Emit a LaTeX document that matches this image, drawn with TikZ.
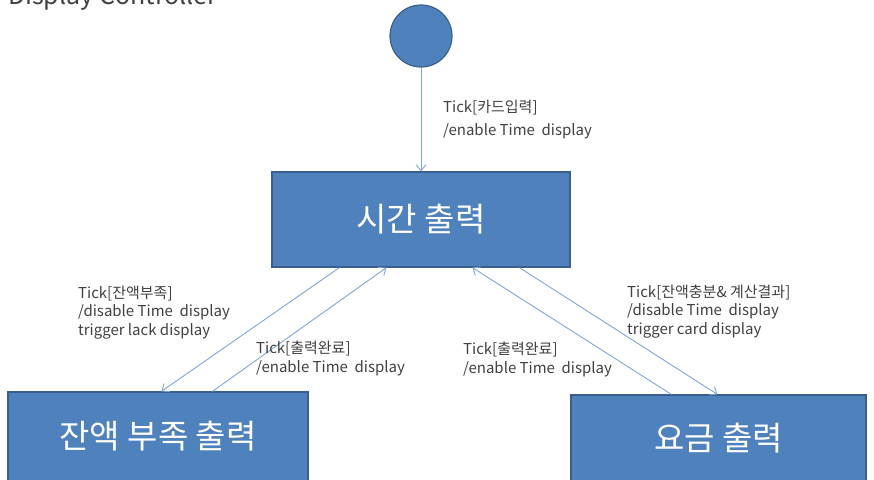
\documentclass[tikz,border=0pt]{standalone}
\usepackage{fontspec}
\setmainfont{Noto Sans CJK KR}
\usetikzlibrary{arrows.meta}
\definecolor{boxfill}{HTML}{4F81BD}
\definecolor{boxedge}{HTML}{3A5F8C}
\definecolor{linec}{HTML}{7FA5D8}
\definecolor{txt}{HTML}{404040}
\tikzset{
  statebox/.style={draw=boxedge, line width=1.2pt, fill=boxfill, text=white,
    font=\fontsize{33}{36}\selectfont, inner sep=0pt},
  initstate/.style={circle, draw=boxedge, line width=1.2pt, fill=boxfill,
    minimum size=62pt, inner sep=0pt},
  arr/.style={draw=linec, line width=0.9pt, -{Straight Barb[length=6pt,width=10pt]}},
  lbl/.style={anchor=base west, align=left, text=txt, inner sep=0pt,
    font=\fontsize{15}{18.5}\selectfont}
}
\begin{document}
\begin{tikzpicture}[x=1pt,y=-1pt]
\useasboundingbox (0,0) rectangle (874,479);
\clip (0,0) rectangle (874,479);
\node[anchor=base west, text=txt, inner sep=0pt, font=\fontsize{25}{28}\selectfont] (title) at (8,5) {Display Controller};
\node[initstate] (init) at (421,36) {};
\node[statebox, minimum width=298pt, minimum height=95pt] (time) at (421,219.5) {시간 출력};
\node[statebox, minimum width=300pt, minimum height=90pt] (lack) at (158,437) {\raisebox{5pt}{잔액 부족 출력}};
\node[statebox, minimum width=295pt, minimum height=88pt] (fee) at (718.5,439) {\raisebox{5pt}{요금 출력}};

\draw[arr] (init) -- (time);
\draw[arr] ([xshift=68pt]time.south west) -- ([xshift=154pt]lack.north west);
\draw[arr] ([xshift=205pt]lack.north west) -- ([xshift=115pt]time.south west);
\draw[arr] ([xshift=248pt]time.south west) -- ([xshift=147pt]fee.north west);
\draw[arr] ([xshift=101pt]fee.north west) -- ([xshift=201pt]time.south west);

\node[lbl, font=\fontsize{15}{23}\selectfont] (l0) at (443,135) {Tick[카드입력]\\/enable Time~ display};
\node[lbl] (l1) at (78,335) {Tick[잔액부족]\\/disable Time~ display\\trigger lack display};
\node[lbl] (l2) at (256,372) {Tick[출력완료]\\/enable Time~ display};
\node[lbl] (l3) at (463,373) {Tick[출력완료]\\/enable Time~ display};
\node[lbl] (l4) at (627,334) {Tick[잔액충분\& 계산결과]\\/disable Time~ display\\trigger card display};
\end{tikzpicture}
\end{document}
